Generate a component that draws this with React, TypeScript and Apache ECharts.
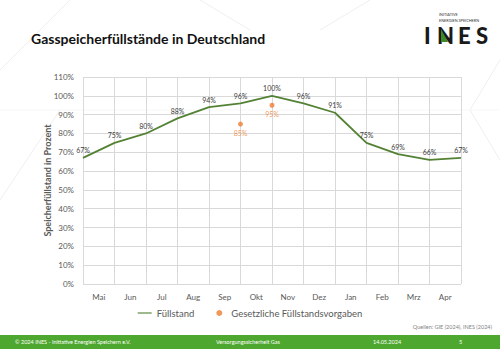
import React, { useEffect, useRef } from "react";
import * as echarts from "echarts";

const titleText = "Gasspeicherfüllstände in Deutschland";
const months = ["Mai", "Jun", "Jul", "Aug", "Sep", "Okt", "Nov", "Dez", "Jan", "Feb", "Mrz", "Apr"];
// values at the month boundaries (13 points)
const fillLevel = [67, 75, 80, 88, 94, 96, 100, 96, 91, 75, 69, 66, 67];
const legalTargets: (number | null)[] = [null, null, null, null, null, 85, 95, null, null, null, null, null, null];
const yMax = 110;
const yStep = 10;
const seriesNames = ["Füllstand", "Gesetzliche Füllstandsvorgaben"];
const yAxisTitle = "Speicherfüllstand in Prozent";
const sourceText = "Quellen: GIE (2024), INES (2024)";
const footerTexts = ["© 2024 INES - Initiative Energien Speichern e.V.", "Versorgungssicherheit Gas", "14.05.2024", "5"];

const FONT = "Lato, 'Liberation Sans', sans-serif";

export default function App() {
  const ref = useRef<HTMLDivElement>(null);
  useEffect(() => {
    if (!ref.current) return;
    const chart = echarts.init(ref.current, null, { renderer: "svg", width: 500, height: 353 });
    const lineData = fillLevel.map((v, i) => [i, v]);
    const targetData = legalTargets
      .map((v, i) => (v == null ? null : [i, v]))
      .filter((d) => d !== null);

    const faint = { stroke: "#efefef", lineWidth: 1 };
    chart.setOption({
      animation: false,
      backgroundColor: "#ffffff",
      textStyle: { fontFamily: FONT },
      grid: { left: 83, right: 39, top: 77, bottom: 69, containLabel: false },
      legend: {
        top: 303,
        left: "center",
        itemGap: 22,
        itemWidth: 14,
        itemHeight: 6,
        textStyle: { fontSize: 9.5, color: "#595959", fontFamily: FONT },
        data: [
          { name: seriesNames[0], icon: "path://M0,0h20v1.6h-20z", itemStyle: { color: "#548235" } },
          { name: seriesNames[1], icon: "circle" },
        ],
      },
      xAxis: [
        {
          type: "value",
          min: 0,
          max: months.length,
          interval: 1,
          axisLabel: { show: false },
          axisTick: { show: false },
          axisLine: { show: false },
          splitLine: { show: true, lineStyle: { color: "#d9d9d9", width: 1 } },
        },
        {
          type: "category",
          data: months,
          boundaryGap: true,
          position: "bottom",
          axisLine: { show: false },
          axisTick: { show: false },
          splitLine: { show: false },
          axisLabel: { fontSize: 8, color: "#595959", margin: 9, fontFamily: FONT },
        },
      ],
      yAxis: {
        type: "value",
        min: 0,
        max: yMax,
        interval: yStep,
        name: yAxisTitle,
        nameLocation: "middle",
        nameGap: 31,
        nameMoveOverlap: false,
        nameTextStyle: { fontSize: 9, fontWeight: "bold", color: "#595959", fontFamily: FONT },
        axisLabel: { formatter: "{value}%", fontSize: 8, color: "#595959", margin: 9, fontFamily: FONT },
        axisLine: { show: false },
        axisTick: { show: false },
        splitLine: { show: true, lineStyle: { color: "#d9d9d9", width: 1 } },
      },
      series: [
        {
          name: seriesNames[0],
          type: "line",
          xAxisIndex: 0,
          data: lineData,
          symbol: "circle",
          symbolSize: 0,
          showSymbol: true,
          lineStyle: { color: "#548235", width: 1.8 },
          itemStyle: { color: "#548235" },
          label: {
            show: true,
            position: "top",
            distance: 4,
            fontSize: 7,
            color: "#404040",
            fontFamily: FONT,
            formatter: (p: any) => p.value[1] + "%",
          },
        },
        {
          name: seriesNames[1],
          type: "scatter",
          xAxisIndex: 0,
          data: targetData,
          symbol: "circle",
          symbolSize: 5,
          itemStyle: { color: "#ed7d31" },
          label: {
            show: true,
            position: "bottom",
            distance: 3,
            fontSize: 7,
            color: "#ed7d31",
            fontFamily: FONT,
            formatter: (p: any) => p.value[1] + "%",
          },
        },
      ],
      graphic: [
        // faint background pattern
        { type: "line", silent: true, z: -10, shape: { x1: 0, y1: 70, x2: 70, y2: 0 }, style: faint },
        { type: "line", silent: true, z: -10, shape: { x1: 0, y1: 200, x2: 60, y2: 110 }, style: faint },
        { type: "line", silent: true, z: -10, shape: { x1: 470, y1: 110, x2: 500, y2: 60 }, style: faint },
        { type: "line", silent: true, z: -10, shape: { x1: 470, y1: 110, x2: 500, y2: 160 }, style: faint },
        { type: "line", silent: true, z: -10, shape: { x1: 0, y1: 110, x2: 500, y2: 110 }, style: { stroke: "#f7f7f7", lineWidth: 1 } },
        { type: "line", silent: true, z: -10, shape: { x1: 200, y1: 0, x2: 250, y2: 30 }, style: faint },
        { type: "line", silent: true, z: -10, shape: { x1: 320, y1: 30, x2: 370, y2: 0 }, style: faint },
        {
          type: "text",
          left: 31,
          top: 31,
          style: { text: titleText, fontSize: 14, fontWeight: "bold", fill: "#111111", fontFamily: FONT },
        },
        // Logo
        { type: "text", left: 439, top: 12, style: { text: "INITIATIVE", fontSize: 3.8, fill: "#333333", fontFamily: FONT } },
        { type: "text", left: 439, top: 18, style: { text: "ENERGIEN SPEICHERN", fontSize: 3.8, fill: "#333333", fontFamily: FONT } },
        { type: "text", left: 424, top: 24, style: { text: "I", fontSize: 22, fontWeight: "900", fill: "#1a1a1a", fontFamily: FONT } },
        { type: "text", left: 437, top: 24, style: { text: "N", fontSize: 22, fontWeight: "900", fill: "#1a1a1a", fontFamily: FONT } },
        {
          type: "polygon",
          shape: { points: [[441, 29], [448, 42], [441, 42]] },
          style: { fill: "#3d8a2a" },
          z: 100,
        },
        { type: "text", left: 458, top: 24, style: { text: "E", fontSize: 22, fontWeight: "900", fill: "#1a1a1a", fontFamily: FONT } },
        { type: "text", left: 476, top: 24, style: { text: "S", fontSize: 22, fontWeight: "900", fill: "#1a1a1a", fontFamily: FONT } },
        // Source
        { type: "text", right: 8, top: 324, style: { text: sourceText, fontSize: 5.5, fill: "#7f7f7f", fontFamily: FONT } },
        // footer
        { type: "rect", shape: { x: 0, y: 335, width: 500, height: 14 }, style: { fill: "#4ea72e" } },
        { type: "text", left: 15, top: 339, style: { text: footerTexts[0], fontSize: 5.5, fill: "#ffffff", fontFamily: FONT } },
        { type: "text", left: 216, top: 339, style: { text: footerTexts[1], fontSize: 5.5, fill: "#ffffff", fontFamily: FONT } },
        { type: "text", left: 373, top: 339, style: { text: footerTexts[2], fontSize: 5.5, fill: "#ffffff", fontFamily: FONT } },
        { type: "text", left: 459, top: 339, style: { text: footerTexts[3], fontSize: 5.5, fill: "#ffffff", fontFamily: FONT } },
      ],
    });
    return () => chart.dispose();
  }, []);
  return <div ref={ref} style={{ position: "fixed", left: 0, top: 0, width: 500, height: 353 }} />;
}
